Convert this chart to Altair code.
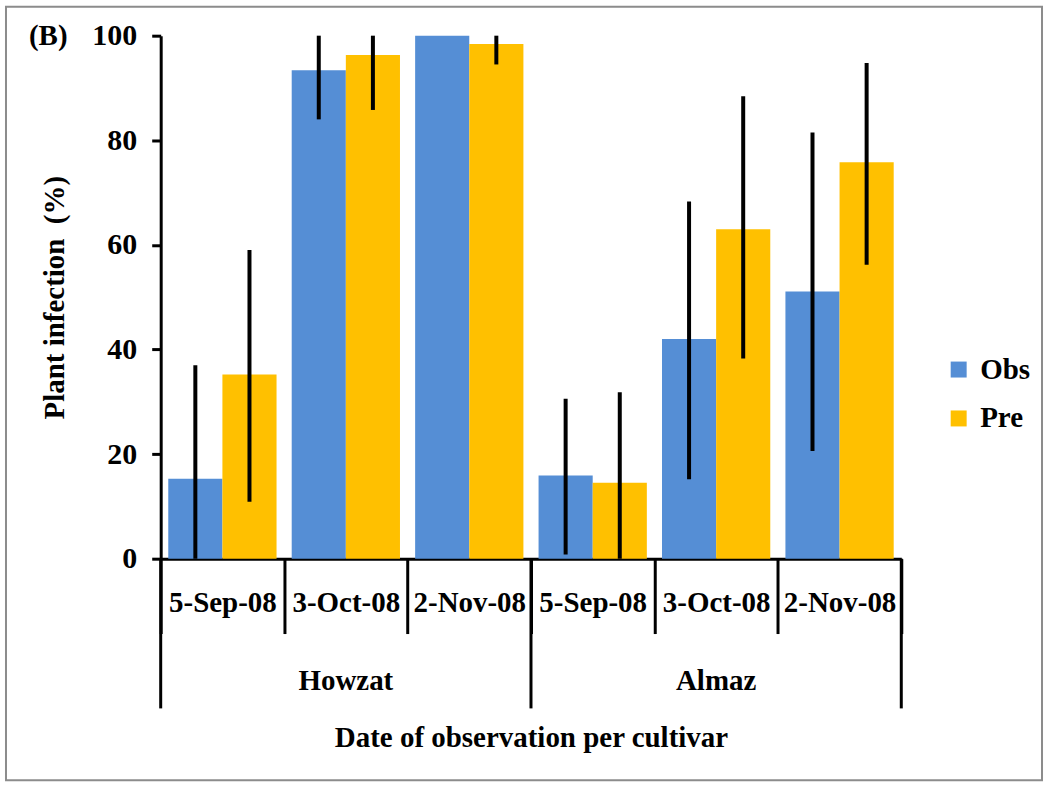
import altair as alt
import pandas as pd

cultivars = ["Howzat", "Howzat", "Howzat", "Almaz", "Almaz", "Almaz"]
dates = ["5-Sep-08", "3-Oct-08", "2-Nov-08", "5-Sep-08", "3-Oct-08", "2-Nov-08"]
obs = [15.3, 93.4, 100.0, 15.9, 42.0, 51.1]
pre = [35.2, 96.3, 98.4, 14.5, 63.0, 75.8]
obs_lo = [0.0, 84.0, 100.0, 0.8, 15.2, 20.6]
obs_hi = [37.0, 100.0, 100.0, 30.6, 68.3, 81.5]
pre_lo = [10.9, 85.8, 94.5, 0.0, 38.3, 56.2]
pre_hi = [59.0, 100.0, 100.0, 31.8, 88.4, 94.8]
series = ["Obs", "Pre"]
colors = ["#558ED5", "#FFC000"]
y_ticks = [0, 20, 40, 60, 80, 100]

keys = [f"{c}|{d}" for c, d in zip(cultivars, dates)]

rows = []
for i, k in enumerate(keys):
    rows.append(dict(key=k, series="Obs", value=obs[i], lo=obs_lo[i], hi=obs_hi[i]))
    rows.append(dict(key=k, series="Pre", value=pre[i], lo=pre_lo[i], hi=pre_hi[i]))
df = pd.DataFrame(rows)

cult_names = ["Howzat", "Almaz"]
cult_df = pd.DataFrame({"key": [f"{c}|3-Oct-08" for c in cult_names], "name": cult_names})
sep_start = pd.DataFrame({"key": [f"{c}|5-Sep-08" for c in cult_names]})
sep_end = pd.DataFrame({"key": ["Almaz|2-Nov-08"]})
panel_df = pd.DataFrame({"label": ["(B)"]})

FONT = "Liberation Serif"
W, H = 742, 524

xscale = alt.Scale(domain=keys, paddingInner=0, paddingOuter=0)
off_scale = alt.Scale(domain=series, paddingInner=0, paddingOuter=0.14)

x_axis = alt.Axis(
    title="Date of observation per cultivar",
    labelExpr="split(datum.label, '|')[1]",
    labelAngle=0,
    labelFontSize=29, labelFontWeight="bold", labelFont=FONT, labelColor="black",
    labelPadding=-45,
    tickBand="extent", tickSize=75, tickWidth=3, tickColor="black",
    domainWidth=3, domainColor="black",
    titleFontSize=29, titleFontWeight="bold", titleFont=FONT, titleColor="black",
    titlePadding=89,
    labelOverlap=False,
)

y_axis = alt.Axis(
    title="Plant infection\u00a0 (%)",
    values=y_ticks,
    grid=False,
    labelFontSize=30, labelFontWeight="bold", labelFont=FONT, labelColor="black",
    labelPadding=15,
    tickSize=9, tickWidth=3, tickColor="black",
    domainWidth=3, domainColor="black",
    titleFontSize=29, titleFontWeight="bold", titleFont=FONT, titleColor="black",
    titlePadding=22,
)

frame = alt.Chart(panel_df).mark_rect(fill="transparent", stroke="#8c8c8c", strokeWidth=2).encode(
    x=alt.value(-155), x2=alt.value(883), y=alt.value(-29), y2=alt.value(746)
)

bars = alt.Chart(df).mark_bar().encode(
    x=alt.X("key:N", scale=xscale, axis=x_axis),
    xOffset=alt.XOffset("series:N", scale=off_scale),
    y=alt.Y("value:Q", scale=alt.Scale(domain=[0, 100], nice=False), axis=y_axis),
    color=alt.Color(
        "series:N",
        scale=alt.Scale(domain=series, range=colors),
        legend=alt.Legend(
            orient="none", legendX=785, legendY=320, title=None,
            symbolType="square", symbolSize=256, symbolStrokeWidth=0,
            labelFontSize=29, labelFontWeight="bold", labelFont=FONT, labelColor="black",
            rowPadding=19, labelOffset=7,
        ),
    ),
)

errs = alt.Chart(df).mark_rule(color="black", strokeWidth=4).encode(
    x=alt.X("key:N", scale=xscale),
    xOffset=alt.XOffset("series:N", scale=off_scale),
    y="lo:Q",
    y2="hi:Q",
)

cult_text = alt.Chart(cult_df).mark_text(
    fontSize=29, fontWeight="bold", font=FONT, color="black", baseline="middle"
).encode(
    x=alt.X("key:N", scale=xscale),
    y=alt.value(647),
    text="name:N",
)

sep1 = alt.Chart(sep_start).mark_rule(color="black", strokeWidth=3).encode(
    x=alt.X("key:N", scale=xscale, bandPosition=0),
    y=alt.value(H), y2=alt.value(674),
)
sep2 = alt.Chart(sep_end).mark_rule(color="black", strokeWidth=3).encode(
    x=alt.X("key:N", scale=xscale, bandPosition=1),
    y=alt.value(H), y2=alt.value(674),
)

panel = alt.Chart(panel_df).mark_text(
    fontSize=29, fontWeight="bold", font=FONT, color="black", baseline="middle", align="left"
).encode(
    x=alt.value(-132), y=alt.value(0), text="label:N"
)

chart = alt.layer(frame, bars, errs, sep1, sep2, cult_text, panel).properties(
    width=W, height=H, padding=5, background="white"
).configure(font=FONT).configure_view(strokeWidth=0)

chart.save("out.html", embed_options={"renderer": "svg", "actions": False})
